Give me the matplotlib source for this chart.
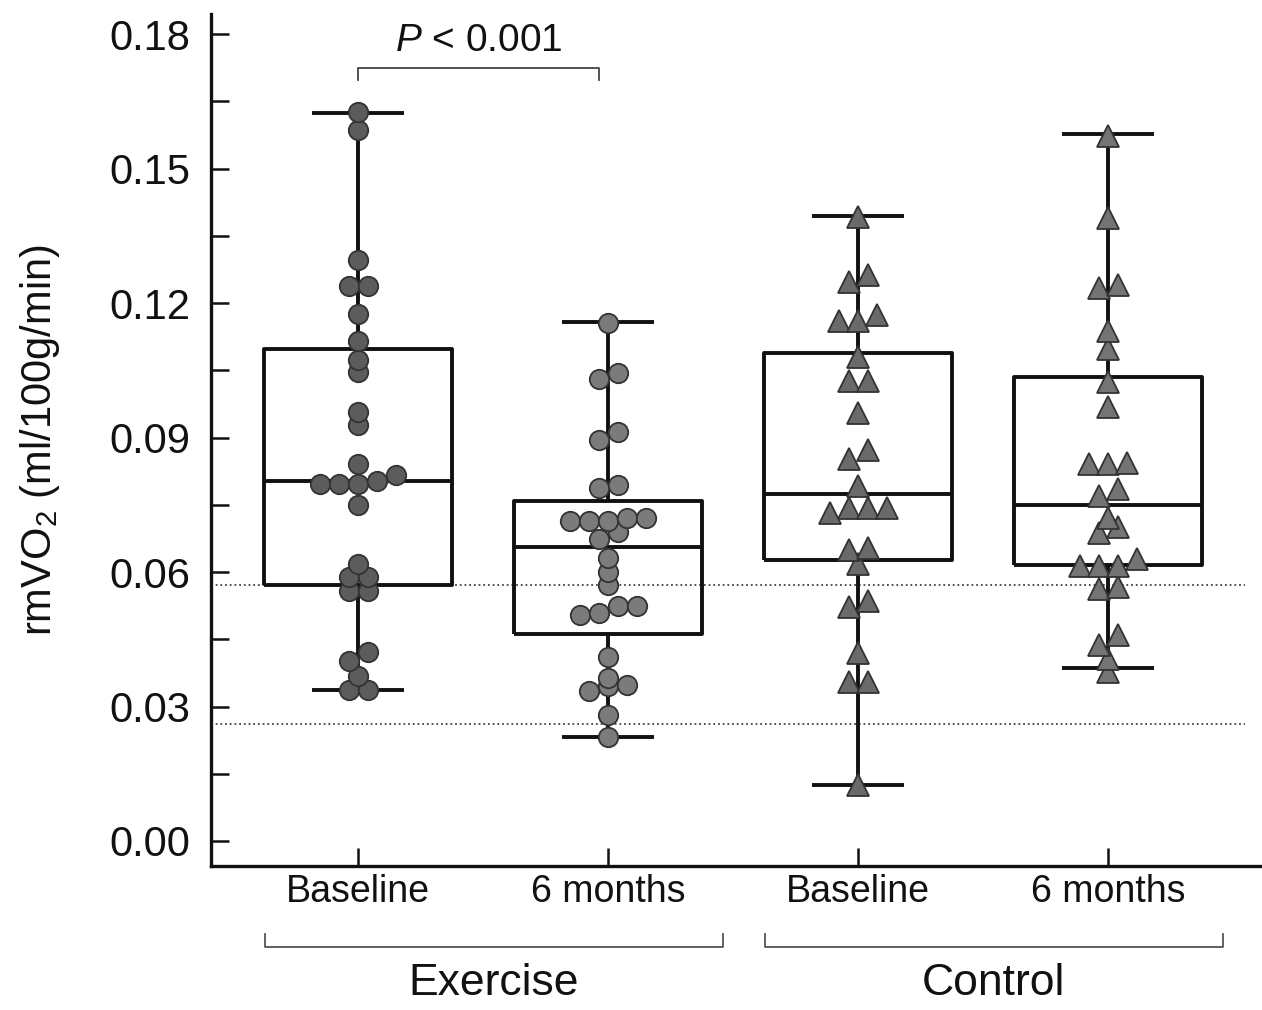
import matplotlib
matplotlib.use('Agg')
import matplotlib.pyplot as plt
import numpy as np
from matplotlib.transforms import blended_transform_factory

plt.rcParams['font.family'] = ['Liberation Sans', 'DejaVu Sans']
plt.rcParams['mathtext.fontset'] = 'custom'
plt.rcParams['mathtext.rm'] = 'Liberation Sans'
plt.rcParams['mathtext.it'] = 'Liberation Sans:italic'

# data
groups = ['Exercise', 'Control']
tick_labels = ['Baseline', '6 months', 'Baseline', '6 months']
positions = [1, 2, 3, 4]

ex_base = [0.1627, 0.1587, 0.1297, 0.1238, 0.1238, 0.1176, 0.1116, 0.1072, 0.1046,
           0.0958, 0.0927, 0.0841, 0.0817, 0.0804, 0.0797, 0.0797, 0.0797, 0.0749,
           0.0619, 0.0588, 0.0588, 0.0557, 0.0557, 0.0421, 0.0401, 0.0368, 0.0337, 0.0337]
ex_6m = [0.1156, 0.1044, 0.1031, 0.0913, 0.0895, 0.0794, 0.0787, 0.0721, 0.0721,
         0.0714, 0.0714, 0.0714, 0.0690, 0.0673, 0.0632, 0.0601, 0.0571, 0.0524,
         0.0524, 0.0509, 0.0505, 0.0410, 0.0364, 0.0349, 0.0345, 0.0334, 0.0282, 0.0233]
ctl_base = [0.1391, 0.1263, 0.1248, 0.1173, 0.1161, 0.1161, 0.1079, 0.1027, 0.1027,
            0.0954, 0.0872, 0.0853, 0.0793, 0.0742, 0.0742, 0.0742, 0.0732, 0.0654,
            0.0649, 0.0619, 0.0536, 0.0523, 0.0419, 0.0354, 0.0354, 0.0124]
ctl_6m = [0.1573, 0.1390, 0.1241, 0.1233, 0.1138, 0.1097, 0.1025, 0.0969, 0.0844,
          0.0840, 0.0840, 0.0786, 0.0770, 0.0720, 0.0700, 0.0687, 0.0629, 0.0613,
          0.0613, 0.0613, 0.0567, 0.0563, 0.0459, 0.0438, 0.0405, 0.0376]

# box stats (whiskers = min/max)
whis_lo = [0.0337, 0.0233, 0.0125, 0.0386]
q1 = [0.0571, 0.0462, 0.0627, 0.0616]
med = [0.0803, 0.0656, 0.0775, 0.0750]
q3 = [0.1097, 0.0758, 0.1089, 0.1035]
whis_hi = [0.1624, 0.1157, 0.1395, 0.1577]

ref_lines = [0.0571, 0.0262]


def swarm(vals, step=0.076, gap=0.0024):
    # simple row-binned swarm: close values share a row, spread symmetrically
    vals = np.sort(np.asarray(vals, dtype=float))
    offs = np.zeros(len(vals))
    start = 0
    for i in range(1, len(vals) + 1):
        if i == len(vals) or vals[i] - vals[start] > gap:
            n = i - start
            offs[start:i] = (np.arange(n) - (n - 1) / 2) * step
            start = i
    return vals, offs


fig = plt.figure(figsize=(12.62, 10.10), dpi=100)
ax = fig.add_axes([211 / 1262, 144 / 1010, 1051 / 1262, 852 / 1010])

# reference lines
for yv in ref_lines:
    ax.plot([0.412, 4.548], [yv, yv], color='#444444', lw=1.3,
            ls=(0, (1, 1.6)), zorder=1)

stats = []
for i in range(4):
    stats.append(dict(whislo=whis_lo[i], q1=q1[i], med=med[i], q3=q3[i],
                      whishi=whis_hi[i], fliers=[]))
lp = dict(color='#111111', lw=2.8, solid_capstyle='butt')
ax.bxp(stats, positions=positions, widths=0.75, capwidths=0.37, showfliers=False,
       boxprops=lp, whiskerprops=lp, capprops=lp, medianprops=lp,
       manage_ticks=False, zorder=2)

series = [ex_base, ex_6m, ctl_base, ctl_6m]
markers = ['o', 'o', '^', '^']
msizes = [14, 14, 16.5, 16.5]
fills = ['#5c5c5c', '#7b7b7b', '#6a6a6a', '#747474']
for pos, vals, mk, ms, fc in zip(positions, series, markers, msizes, fills):
    v, off = swarm(vals)
    ax.plot(pos + off, v, ls='none', marker=mk, ms=ms, mfc=fc,
            mec='#333333', mew=1.3, zorder=3, clip_on=False)

ax.set_xlim(0.412, 4.616)
ax.set_ylim(-0.00558, 0.1845)

for s in ['top', 'right']:
    ax.spines[s].set_visible(False)
for s in ['left', 'bottom']:
    ax.spines[s].set_linewidth(2.4)
    ax.spines[s].set_color('#111111')

ax.set_yticks(np.arange(0, 0.181, 0.03))
ax.set_yticklabels(['%.2f' % t for t in np.arange(0, 0.181, 0.03)])
ax.set_yticks(np.arange(0.015, 0.18, 0.03), minor=True)
ax.tick_params(axis='y', which='both', direction='in', length=13, width=1.8,
               pad=15, labelsize=30, colors='#111111')
ax.set_xticks(positions)
ax.set_xticklabels(tick_labels)
ax.tick_params(axis='x', direction='in', length=13, width=1.8, pad=6,
               labelsize=27, colors='#111111')

ax.set_ylabel('rmVO$_{\\mathregular{2}}$ (ml/100g/min)', fontsize=30, color='#111111')
ax.yaxis.set_label_coords(-0.142, 0.5)

# significance bracket
bx0, bx1, by, bt = 1.0, 1.964, 0.1724, 0.1697
ax.plot([bx0, bx0, bx1, bx1], [bt, by, by, bt], color='#444444', lw=1.3,
        clip_on=False)
ax.text((bx0 + bx1) / 2, 0.1762, '$P$ < 0.001', ha='center', va='baseline',
        fontsize=28, color='#111111')

# group brackets under the axis
tr = blended_transform_factory(ax.transData, ax.transAxes)
for gi, name in enumerate(groups):
    x0 = positions[2 * gi] - 0.372
    x1 = positions[2 * gi + 1] + 0.458
    ax.plot([x0, x0, x1, x1], [-0.080, -0.0955, -0.0955, -0.080], color='#555555',
            lw=1.3, transform=tr, clip_on=False)
    ax.text((x0 + x1) / 2, -0.138, name, ha='center', va='center', fontsize=32,
            color='#111111', transform=tr)

fig.savefig('out.png', dpi=100)
